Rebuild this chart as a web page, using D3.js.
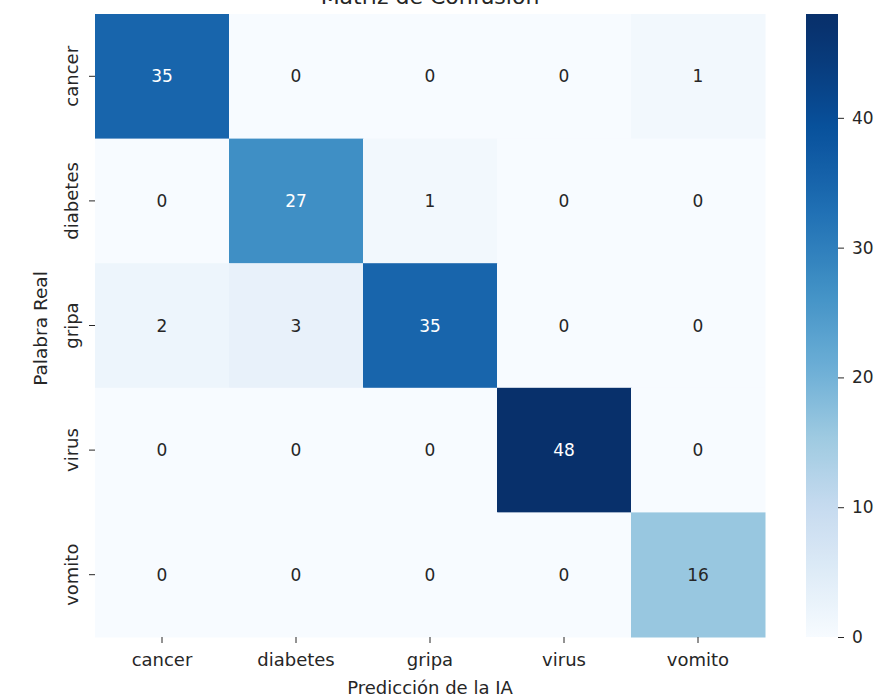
<!DOCTYPE html>
<html>
<head>
<meta charset="utf-8">
<script src="https://cdn.jsdelivr.net/npm/d3@7"></script>
<style>
  html, body { margin: 0; padding: 0; background: #fff; }
  svg { display: block; font-family: "DejaVu Sans", sans-serif; }
</style>
</head>
<body>
<svg id="chart" width="877" height="700"></svg>
<script>
// Class labels (true rows / predicted columns)
const labels = ["cancer", "diabetes", "gripa", "virus", "vomito"];
// Confusion counts, one array per true class
const rowCancer   = [35, 0, 0, 0, 1];
const rowDiabetes = [0, 27, 1, 0, 0];
const rowGripa    = [2, 3, 35, 0, 0];
const rowVirus    = [0, 0, 0, 48, 0];
const rowVomito   = [0, 0, 0, 0, 16];
const matrix = [rowCancer, rowDiabetes, rowGripa, rowVirus, rowVomito];
const colorbarTicks = [0, 10, 20, 30, 40];
const titleText = "Matriz de Confusión";
const xLabelText = "Predicción de la IA";
const yLabelText = "Palabra Real";

// Blues colour map stops
const bluesStops = ["#f7fbff", "#deebf7", "#c6dbef", "#9ecae1", "#6baed6",
                    "#4292c6", "#2171b5", "#08519c", "#08306b"];

const svg = d3.select("#chart");
const plot = { left: 95, top: 14, right: 765, bottom: 637 };

const vmin = 0;
const vmax = d3.max(matrix.flat());
// Ramp through the stops; the tone curve deepens the mid-range blues
const ramp = d3.scaleLinear()
  .domain(bluesStops.map((_, i) => i / (bluesStops.length - 1)))
  .range(bluesStops)
  .interpolate(d3.interpolateRgb)
  .clamp(true);
const norm = d3.scaleLinear().domain([vmin, vmax]).range([0, 1]).clamp(true);
const color = v => ramp(1 - Math.pow(1 - norm(v), 1.22));

const x = d3.scaleBand().domain(labels).range([plot.left, plot.right]);
const y = d3.scaleBand().domain(labels).range([plot.top, plot.bottom]);

const cells = [];
matrix.forEach((row, i) => row.forEach((v, j) => cells.push({ r: labels[i], c: labels[j], v })));

svg.append("g").selectAll("rect").data(cells).join("rect")
  .attr("x", d => x(d.c))
  .attr("y", d => y(d.r))
  .attr("width", x.bandwidth() + 0.5)
  .attr("height", y.bandwidth() + 0.5)
  .attr("fill", d => color(d.v));

function luminance(c) {
  const rgb = d3.rgb(c);
  const f = ch => { ch /= 255; return ch <= 0.03928 ? ch / 12.92 : Math.pow((ch + 0.055) / 1.055, 2.4); };
  return 0.2126 * f(rgb.r) + 0.7152 * f(rgb.g) + 0.0722 * f(rgb.b);
}

svg.append("g").selectAll("text").data(cells).join("text")
  .attr("x", d => x(d.c) + x.bandwidth() / 2)
  .attr("y", d => y(d.r) + y.bandwidth() / 2)
  .attr("text-anchor", "middle")
  .attr("dominant-baseline", "central")
  .attr("font-size", 17)
  .attr("fill", d => luminance(color(d.v)) > 0.408 ? "#262626" : "#ffffff")
  .text(d => d.v);

// Axes
const xAxis = svg.append("g")
  .attr("transform", `translate(0,${plot.bottom})`)
  .call(d3.axisBottom(x).tickSize(6).tickPadding(10));
xAxis.select(".domain").remove();
xAxis.selectAll("line").attr("stroke", "#262626");
xAxis.selectAll("text").attr("font-size", 18).attr("fill", "#262626").attr("font-family", "DejaVu Sans");

const yAxis = svg.append("g")
  .attr("transform", `translate(${plot.left},0)`)
  .call(d3.axisLeft(y).tickSize(6).tickPadding(6));
yAxis.select(".domain").remove();
yAxis.selectAll("line").attr("stroke", "#262626");
yAxis.selectAll("text")
  .attr("font-size", 18).attr("fill", "#262626").attr("font-family", "DejaVu Sans")
  .attr("x", null).attr("dy", null)
  .attr("text-anchor", "middle")
  .attr("transform", "translate(-17,0) rotate(-90)");

// Axis titles
svg.append("text")
  .attr("x", (plot.left + plot.right) / 2)
  .attr("y", 694)
  .attr("text-anchor", "middle")
  .attr("font-size", 18)
  .attr("fill", "#262626")
  .text(xLabelText);

svg.append("text")
  .attr("transform", `translate(47,${(plot.top + plot.bottom) / 2 + 3}) rotate(-90)`)
  .attr("text-anchor", "middle")
  .attr("font-size", 18.5)
  .attr("fill", "#262626")
  .text(yLabelText);

// Title, sitting right at the top edge of the canvas
svg.append("text")
  .attr("x", (plot.left + plot.right) / 2)
  .attr("y", 4)
  .attr("text-anchor", "middle")
  .attr("font-size", 22)
  .attr("fill", "#262626")
  .text(titleText);

// Colour bar
const cb = { left: 806, width: 32, top: plot.top, bottom: plot.bottom };
const grad = svg.append("defs").append("linearGradient")
  .attr("id", "cbgrad").attr("x1", 0).attr("y1", 1).attr("x2", 0).attr("y2", 0);
d3.range(0, 1.0001, 0.02).forEach(t => {
  grad.append("stop").attr("offset", t).attr("stop-color", color(vmin + t * (vmax - vmin)));
});
svg.append("rect")
  .attr("x", cb.left).attr("y", cb.top)
  .attr("width", cb.width).attr("height", cb.bottom - cb.top)
  .attr("fill", "url(#cbgrad)");

const cbScale = d3.scaleLinear().domain([vmin, vmax]).range([cb.bottom, cb.top]);
const cbAxis = svg.append("g")
  .attr("transform", `translate(${cb.left + cb.width},0)`)
  .call(d3.axisRight(cbScale).tickValues(colorbarTicks).tickSize(6).tickPadding(8));
cbAxis.select(".domain").remove();
cbAxis.selectAll("line").attr("stroke", "#262626");
cbAxis.selectAll("text").attr("font-size", 17).attr("fill", "#262626").attr("font-family", "DejaVu Sans");
</script>
</body>
</html>
